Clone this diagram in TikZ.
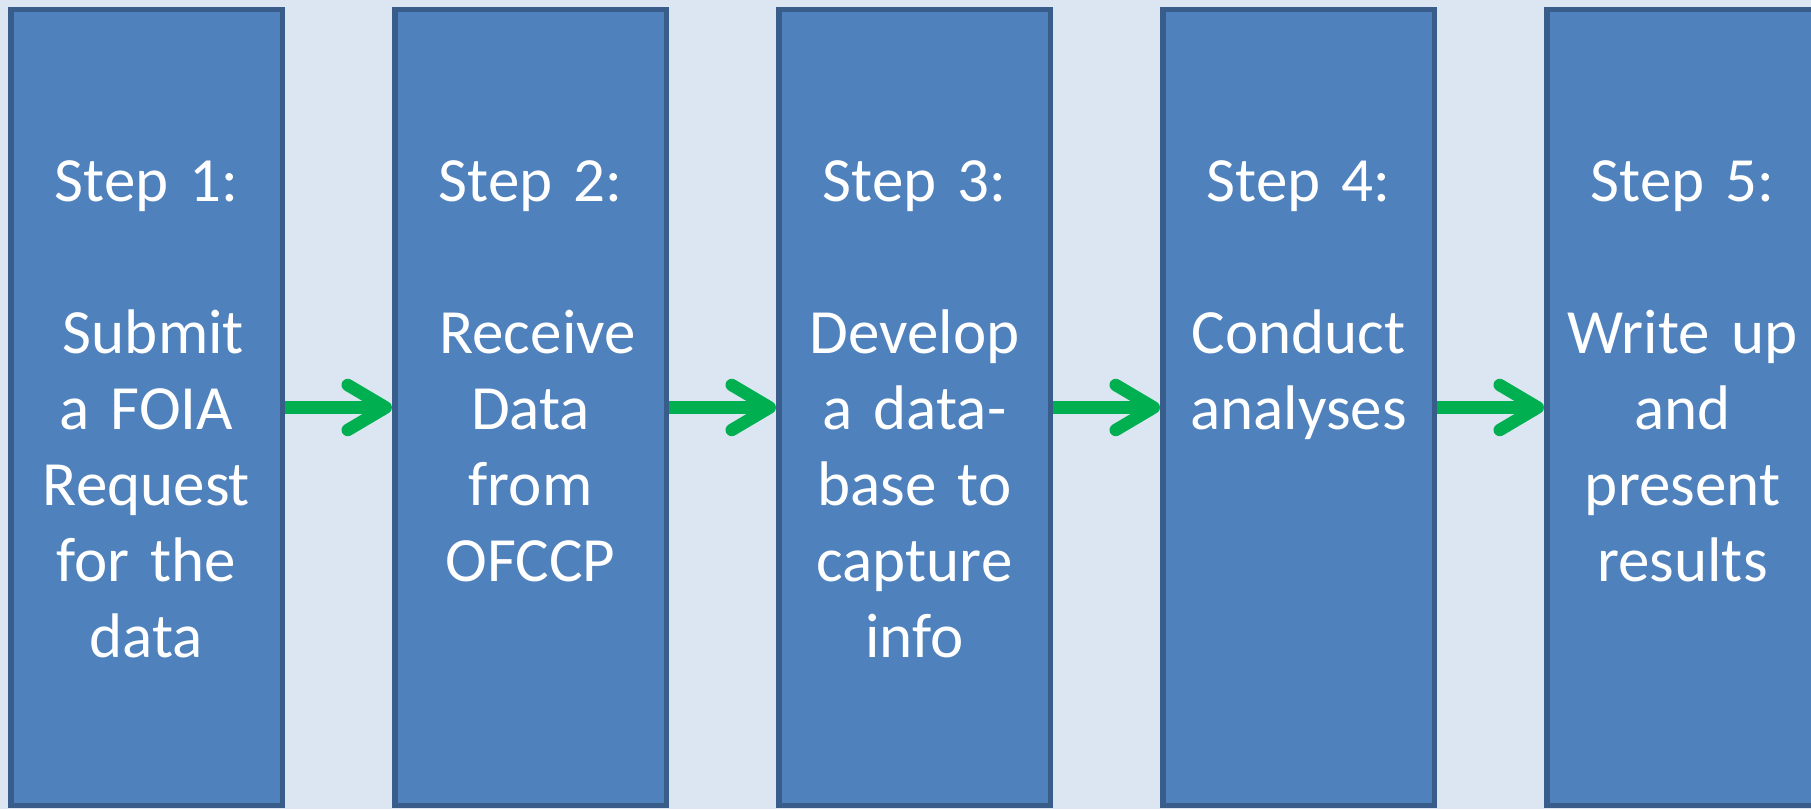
\documentclass[tikz,border=0pt]{standalone}
\usepackage{fontspec}
\setmainfont{Carlito}[WordSpace=0.85]
\usetikzlibrary{positioning,chains,arrows.meta}
\definecolor{slidebg}{HTML}{DCE6F2}
\definecolor{boxfill}{HTML}{4F81BD}
\definecolor{boxline}{HTML}{385D8A}
\definecolor{arrowgreen}{HTML}{00B050}
\tikzset{
stepbox/.style={ rectangle, draw=boxline, fill=boxfill, line width=5.5pt, minimum width=271.5pt, minimum height=795.5pt, inner sep=0pt, on chain},
steptext/.style={ text=white, text width=265pt, align=center, inner sep=0pt, font=\fontsize{63}{76}\selectfont},
every join/.style={draw=arrowgreen, line width=12.5pt, -{Straight Barb[round,length=38pt,width=45pt]}},
}

\begin{document}
\begin{tikzpicture}
[x=1pt, y=1pt, node distance=107pt, start chain=going right,]

\useasboundingbox (0,0) rectangle (1811,809);
\clip (0,0) rectangle (1811,809);
\fill[slidebg] (0,0) rectangle (1811,809);

\node[stepbox] (box1) at (146.5,401.5) {};
\node[stepbox, join] (box2) {};
\node[stepbox, join] (box3) {};
\node[stepbox, join] (box4) {};
\node[stepbox, join] (box5) {};

\node[steptext, below=153pt of box1.north] (text1) {Step 1:\\[76pt]\hspace*{14pt}Submit\\a FOIA\\Request\\for the\\data};
\node[steptext, below=153pt of box2.north] (text2) {Step 2:\\[76pt]\hspace*{14pt}Receive\\Data\\from\\OFCCP};
\node[steptext, below=153pt of box3.north] (text3) {Step 3:\\[76pt]Develop\\a data-\\base to\\capture\\info};
\node[steptext, below=153pt of box4.north] (text4) {Step 4:\\[76pt]Conduct\\analyses};
\node[steptext, below=153pt of box5.north] (text5) {Step 5:\\[76pt]Write up\\and\\present\\results};

\end{tikzpicture}
\end{document}
